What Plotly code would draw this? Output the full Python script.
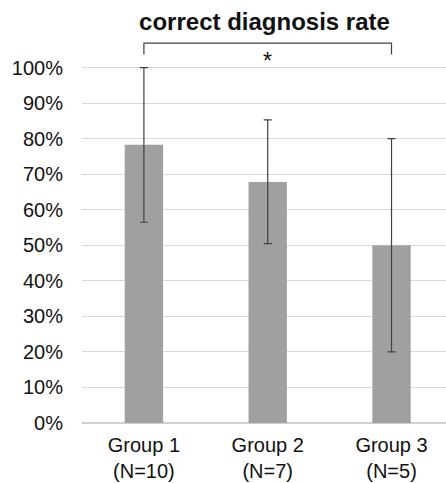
import plotly.graph_objects as go

groups = ["Group 1<br>(N=10)", "Group 2<br>(N=7)", "Group 3<br>(N=5)"]
rates = [78.3, 67.8, 50.0]
err_plus = [21.7, 17.5, 30.0]
err_minus = [21.8, 17.3, 30.0]
ytick_vals = [0, 10, 20, 30, 40, 50, 60, 70, 80, 90, 100]
ytick_text = [f"{v}%" for v in ytick_vals]
sig_pair = [0, 2]
sig_label = "*"

xpos = list(range(len(groups)))

fig = go.Figure()
fig.add_trace(go.Bar(
    x=xpos, y=rates, width=0.31,
    marker=dict(color="#a0a0a0", line=dict(width=0)),
    error_y=dict(type="data", symmetric=False, array=err_plus, arrayminus=err_minus,
                 color="#404040", thickness=1.2, width=4),
))

# significance bracket
fig.add_shape(type="path",
              path=f"M {sig_pair[0]},103.7 L {sig_pair[0]},106.9 L {sig_pair[1]},106.9 L {sig_pair[1]},103.7",
              xref="x", yref="y", line=dict(color="#404040", width=1.2))
fig.add_annotation(x=(sig_pair[0] + sig_pair[1]) / 2, y=102.0, text=sig_label, showarrow=False,
                   font=dict(family="Liberation Sans, Arial", size=23, color="#111"),
                   xref="x", yref="y")

fig.update_layout(
    width=446, height=483,
    margin=dict(l=82, r=0, t=41, b=60, autoexpand=False),
    paper_bgcolor="white", plot_bgcolor="white",
    showlegend=False,
    title=dict(text="<b>correct diagnosis rate</b>", x=0.593, xanchor="center", y=0.955, yanchor="middle",
               font=dict(family="Liberation Sans, Arial", size=24, color="#111")),
    font=dict(family="Liberation Sans, Arial", size=20, color="#111"),
    xaxis=dict(range=[-0.5, 2.44], tickvals=xpos, ticktext=groups, showgrid=False,
               showline=False, zeroline=False, ticks="", tickfont=dict(size=20),
               ticklabelstandoff=8),
    yaxis=dict(range=[0, 107.5], tickvals=ytick_vals, ticktext=ytick_text,
               showgrid=True, gridcolor="#d9d9d9", gridwidth=1, zeroline=True,
               zerolinecolor="#d0d0d0", zerolinewidth=1.5, showline=False,
               ticklabelstandoff=18, tickfont=dict(size=20)),
)

fig.write_html("out.html", config={"displayModeBar": False},
               post_script="document.body.style.margin='0';")
